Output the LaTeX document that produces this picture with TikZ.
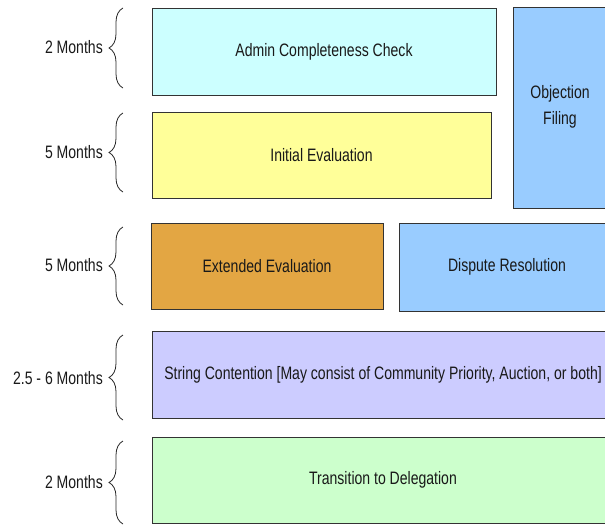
\documentclass[tikz,border=0pt]{standalone}
\usepackage{fontspec}
\setmainfont{Liberation Sans}[FakeStretch=0.78]
\usetikzlibrary{decorations.pathreplacing}
\definecolor{cyanbox}{HTML}{CCFFFF}
\definecolor{yellowbox}{HTML}{FFFF99}
\definecolor{bluebox}{HTML}{99CCFF}
\definecolor{orangebox}{HTML}{E3A643}
\definecolor{violetbox}{HTML}{CCCCFF}
\definecolor{greenbox}{HTML}{CCFFCC}
\definecolor{edge}{HTML}{333333}
\tikzset{
  phase/.style={draw=edge, line width=1pt},
  lbl/.style={font=\fontsize{18}{26}\selectfont, text=black!90, inner sep=0pt},
  dur/.style={anchor=east, font=\fontsize{18}{20}\selectfont, text=black!90, inner sep=0pt},
  bracedeco/.style={decorate, decoration={brace, amplitude=14pt, aspect=0.5}, line width=0.8pt, draw=black!85},
}
\begin{document}
\begin{tikzpicture}[x=1pt,y=-1pt]
\useasboundingbox (0,0) rectangle (605,525);
% boxes
\path[phase, fill=cyanbox] (152,8) rectangle (496,95);
\node[lbl] (admin) at (324,51.5) {Admin Completeness Check};
\path[phase, fill=yellowbox] (152,112) rectangle (491,198);
\node[lbl] (init) at (321.5,155) {Initial Evaluation};
\path[phase, fill=bluebox] (513,7) rectangle (607,208);
\node[lbl, align=center] (obj) at (560,107) {Objection\\Filing};
\path[phase, fill=orangebox] (151,223) rectangle (383,309);
\node[lbl] (ext) at (267,266) {Extended Evaluation};
\path[phase, fill=bluebox] (399,223) rectangle (616,311);
\node[lbl] (disp) at (507,267) {Dispute Resolution};
\path[phase, fill=violetbox] (152,331) rectangle (614,418);
\node[lbl] (str) at (383,375) {String Contention [May consist of Community Priority, Auction, or both]};
\path[phase, fill=greenbox] (152,437) rectangle (614,523);
\node[lbl] (trans) at (383,480) {Transition to Delegation};
% braces
\coordinate (b1t) at (123,8);   \coordinate (b1b) at (123,88);
\coordinate (b2t) at (123,113); \coordinate (b2b) at (123,192);
\coordinate (b3t) at (123,227); \coordinate (b3b) at (123,305);
\coordinate (b4t) at (123,335); \coordinate (b4b) at (123,420);
\coordinate (b5t) at (123,441); \coordinate (b5b) at (123,524);
\draw[bracedeco] (b1b) -- (b1t);
\draw[bracedeco] (b2b) -- (b2t);
\draw[bracedeco] (b3b) -- (b3t);
\draw[bracedeco] (b4b) -- (b4t);
\draw[bracedeco] (b5b) -- (b5t);
\node[dur] (d1) at (103,47) {2 Months};
\node[dur] (d2) at (103,152) {5 Months};
\node[dur] (d3) at (103,265) {5 Months};
\node[dur] (d4) at (103,378) {2.5 - 6 Months};
\node[dur] (d5) at (103,482) {2 Months};
\end{tikzpicture}
\end{document}
